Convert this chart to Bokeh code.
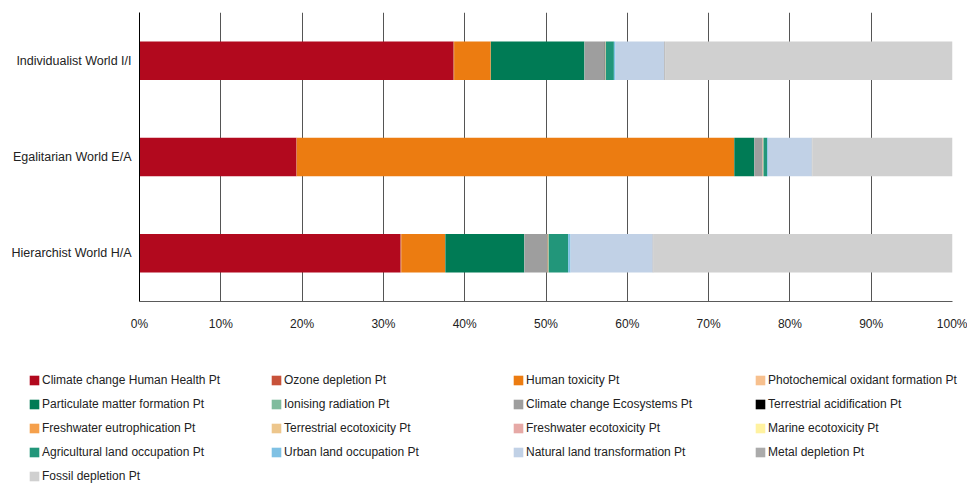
from bokeh.plotting import figure
from bokeh.layouts import column
from bokeh.models import ColumnDataSource, FactorRange, Range1d, Legend, LegendItem, FixedTicker
from bokeh.embed import file_html
from bokeh.resources import INLINE

# Scenario order: bottom to top
scenarios = ["Hierarchist World H/A", "Egalitarian World E/A", "Individualist World I/I"]

categories = [
    "Climate change Human Health Pt", "Ozone depletion Pt", "Human toxicity Pt",
    "Photochemical oxidant formation Pt", "Particulate matter formation Pt",
    "Ionising radiation Pt", "Climate change Ecosystems Pt", "Terrestrial acidification Pt",
    "Freshwater eutrophication Pt", "Terrestrial ecotoxicity Pt", "Freshwater ecotoxicity Pt",
    "Marine ecotoxicity Pt", "Agricultural land occupation Pt", "Urban land occupation Pt",
    "Natural land transformation Pt", "Metal depletion Pt", "Fossil depletion Pt",
]

colors = [
    "#B2091E", "#C8523A", "#EC7C11", "#F7C08E", "#007B55", "#80BC9E", "#9E9E9E",
    "#000000", "#F5A04C", "#EDC68C", "#E6A9A6", "#FFF2A0", "#22967A", "#7FC1E4",
    "#C1D1E6", "#ABABAB", "#D0D0D0",
]

x_ticks = [0, 10, 20, 30, 40, 50, 60, 70, 80, 90, 100]
x_tick_labels = ["0%", "10%", "20%", "30%", "40%", "50%", "60%", "70%", "80%", "90%", "100%"]

# values in % (H/A, E/A, I/I)
climate_hh = [32.1, 19.3, 38.6]
ozone = [0.1, 0.05, 0.1]
human_tox = [5.4, 53.8, 4.5]
photochem = [0.02, 0.01, 0.02]
particulate = [9.7, 2.45, 11.5]
ionising = [0.02, 0.01, 0.02]
climate_eco = [2.85, 1.0, 2.5]
terr_acid = [0.02, 0.01, 0.03]
fw_eutro = [0.05, 0.01, 0.02]
terr_ecotox = [0.02, 0.01, 0.02]
fw_ecotox = [0.02, 0.05, 0.02]
marine_ecotox = [0.02, 0.05, 0.02]
agri_land = [2.4, 0.45, 1.0]
urban_land = [0.3, 0.1, 0.2]
natural_land = [10.1, 5.4, 6.0]
metal = [0.1, 0.05, 0.1]
fossil = [36.78, 17.25, 35.35]

series = [climate_hh, ozone, human_tox, photochem, particulate, ionising, climate_eco,
          terr_acid, fw_eutro, terr_ecotox, fw_ecotox, marine_ecotox, agri_land,
          urban_land, natural_land, metal, fossil]

keys = ["s%d" % i for i in range(len(series))]
data = {"scenario": scenarios}
for k, s in zip(keys, series):
    data[k] = s
source = ColumnDataSource(data)

FONT = "Liberation Sans"

p = figure(
    width=967, height=345,
    y_range=FactorRange(factors=scenarios, range_padding=0),
    x_range=Range1d(0, 100),
    output_backend="svg", toolbar_location=None,
    min_border_left=139, min_border_right=15, min_border_top=12, min_border_bottom=44,
)
p.outline_line_color = None

renderers = p.hbar_stack(keys, y="scenario", height=0.4, color=colors, source=source,
                         line_color=None)

# axes
p.xaxis.ticker = FixedTicker(ticks=x_ticks)
p.xaxis.major_label_overrides = dict(zip(x_ticks, x_tick_labels))
p.xaxis.major_tick_line_color = None
p.xaxis.minor_tick_line_color = None
p.xaxis.major_tick_out = 0
p.xaxis.minor_tick_out = 0
p.xaxis.major_label_standoff = 15
p.xaxis.axis_line_color = "#5a5a5a"
p.yaxis.major_tick_line_color = None
p.yaxis.minor_tick_line_color = None
p.yaxis.major_tick_out = 0
p.yaxis.minor_tick_out = 0
p.yaxis.major_label_standoff = 8
p.yaxis.axis_line_color = "#000000"
for ax in (p.xaxis, p.yaxis):
    ax.major_label_text_font = FONT
    ax.major_label_text_color = "#222222"
p.xaxis.major_label_text_font_size = "12px"
p.yaxis.major_label_text_font_size = "12.5px"

p.ygrid.grid_line_color = None
p.xgrid.grid_line_color = "#555555"
p.xgrid.grid_line_width = 1

# Legend panel below the chart (same data, drawn out of view; only the legend shows)
lg = figure(
    width=967, height=138,
    x_range=Range1d(-2, -1), y_range=FactorRange(factors=scenarios),
    x_axis_location=None, y_axis_location=None,
    output_backend="svg", toolbar_location=None,
    min_border_left=0, min_border_right=0, min_border_top=0, min_border_bottom=0,
)
lg.frame_align = False
lg.grid.visible = False
lg.outline_line_color = None

swatches = lg.hbar_stack(keys, y="scenario", height=0.4, color=colors, source=source,
                         line_color=None)
items = [LegendItem(label=c, renderers=[r]) for c, r in zip(categories, swatches)]
legend = Legend(
    items=items, location=(28, -3), orientation="horizontal", ncols=4,
    glyph_width=12, glyph_height=12, label_width=224, label_height=20,
    label_standoff=2, spacing=4, padding=0, margin=0,
    border_line_color=None, background_fill_alpha=0,
    label_text_font=FONT, label_text_font_size="12px",
    label_text_color="#222222",
)
lg.add_layout(legend)

layout = column(p, lg, spacing=0)

open("out.html", "w").write(file_html(layout, INLINE))
